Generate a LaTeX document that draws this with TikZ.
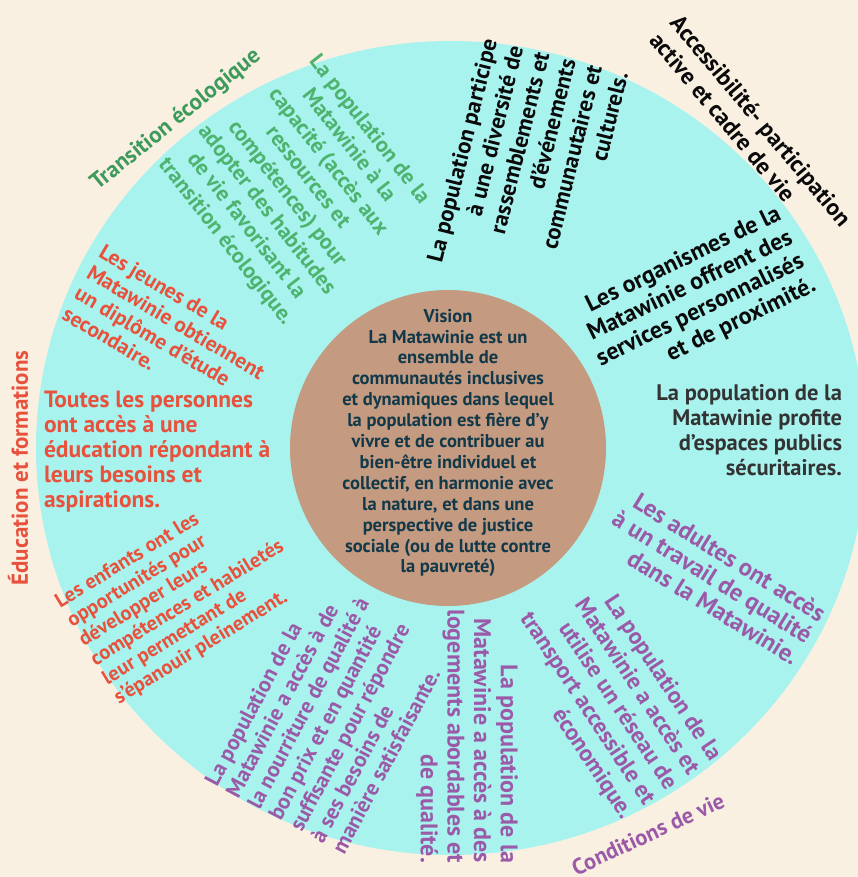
\documentclass[tikz,border=0pt]{standalone}
\usepackage{fontspec}
\setmainfont{PT Sans}
\definecolor{bgcream}{HTML}{FAF0E2}
\definecolor{ringcyan}{HTML}{A9F3EF}
\definecolor{corebrown}{HTML}{C49A80}
\definecolor{navytxt}{HTML}{12394A}
\definecolor{redtxt}{HTML}{E8513C}
\definecolor{greentxt}{HTML}{4DB36E}
\definecolor{greentitle}{HTML}{3E9A5C}
\definecolor{purpletxt}{HTML}{9B5AA8}
\definecolor{blacktxt}{HTML}{0A0A0A}
\definecolor{graytxt}{HTML}{333333}
\newcommand{\fs}[2]{\bfseries\fontsize{#1}{#2}\selectfont}
\tikzset{
  lbl/.style={inner sep=0pt, outer sep=0pt},
}
\begin{document}
\begin{tikzpicture}[x=1pt,y=-1pt]
\useasboundingbox (0,0) rectangle (858,877);
\fill[bgcream] (0,0) rectangle (858,877);
\fill[ringcyan] (451,448) ellipse [x radius=415pt, y radius=407pt];
\fill[corebrown] (448,448) circle [radius=158pt];

% Vision
\node[lbl, text=navytxt, align=center, font=\fs{18.5}{20.9}] (vision) at (448,443)
{Vision\\La Matawinie est un\\ensemble de\\communautés inclusives\\et dynamiques dans lequel\\la population est fière d'y\\vivre et de contribuer au\\bien-être individuel et\\collectif, en harmonie avec\\la nature, et dans une\\perspective de justice\\sociale (ou de lutte contre\\la pauvreté)};

% Titles
\node[lbl, text=greentitle, rotate=39, font=\fs{23}{26}] (ttrans) at (176,120) {Transition écologique};
\node[lbl, text=blacktxt, rotate=-50, anchor=west, align=left, font=\fs{23.5}{27}] (tacces) at (665,27) {Accessibilité- participation\\active et cadre de vie};
\node[lbl, text=redtxt, rotate=90, font=\fs{23}{26}] (tedu) at (18,468) {Éducation et formations};
\node[lbl, text=purpletxt, rotate=25, font=\fs{22.5}{26}] (tcond) at (648,834) {Conditions de vie};

% Green block
\node[lbl, text=greentxt, rotate=-52, align=center, font=\fs{22}{26}] (gcap) at (297,186)
{La population de la\\Matawinie à la\\capacité (accès aux\\ressources et\\compétences) pour\\adopter des habitudes\\de vie favorisant la\\transition écologique.};

% Black blocks
\node[lbl, text=blacktxt, rotate=76, anchor=east, align=right, font=\fs{23}{27}] (bpart) at (555,56)
{La population participe\\à une diversité de\\rassemblements et\\d'événements\\communautaires et\\culturels.};
\node[lbl, text=blacktxt, rotate=26, anchor=east, align=right, font=\fs{24}{26.5}] (borg) at (797,249)
{Les organismes de la\\Matawinie offrent des\\services personnalisés\\et de proximité.};
\node[lbl, text=graytxt, anchor=east, align=right, font=\fs{22.5}{25}] (besp) at (842,430)
{La population de la\\Matawinie profite\\d'espaces publics\\sécuritaires.};

% Red blocks
\node[lbl, text=redtxt, rotate=-30.6, anchor=west, align=left, font=\fs{21.5}{24}] (rjeunes) at (83,281)
{Les jeunes de la\\Matawinie obtiennent\\un diplôme d'étude\\secondaire.};
\node[lbl, text=redtxt, anchor=west, align=left, font=\fs{23.5}{25}] (rtoutes) at (44,452)
{Toutes les personnes\\ont accès à une\\éducation répondant à\\leurs besoins et\\aspirations.};
\node[lbl, text=redtxt, rotate=31.5, anchor=west, align=left, font=\fs{20.5}{22.5}] (renf) at (87,652)
{Les enfants ont les\\opportunités pour\\développer leurs\\compétences et habiletés\\leur permettant de\\s'épanouir pleinement.};

% Purple blocks
\node[lbl, text=purpletxt, rotate=62, anchor=west, align=left, font=\fs{22}{24}] (pnour) at (274,818)
{La population de la\\Matawinie a accès à de\\la nourriture de qualité à\\bon prix et en quantité\\suffisante pour répondre\\à ses besoins de\\manière satisfaisante.};
\node[lbl, text=purpletxt, rotate=-90, anchor=east, align=right, font=\fs{24}{26.7}] (plog) at (467,863)
{La population de la\\Matawinie a accès à des\\logements abordables et\\de qualité.};
\node[lbl, text=purpletxt, rotate=-31.7, anchor=east, align=right, font=\fs{24.5}{25.5}] (padu) at (810,637)
{Les adultes ont accès\\à un travail de qualité\\dans la Matawinie.};
\node[lbl, text=purpletxt, rotate=-56.5, anchor=east, align=right, font=\fs{23.4}{26.5}] (ptrans) at (671,788)
{La population de la\\Matawinie a accès et\\utilise un réseau de\\transport accessible et\\économique.};
\end{tikzpicture}
\end{document}
